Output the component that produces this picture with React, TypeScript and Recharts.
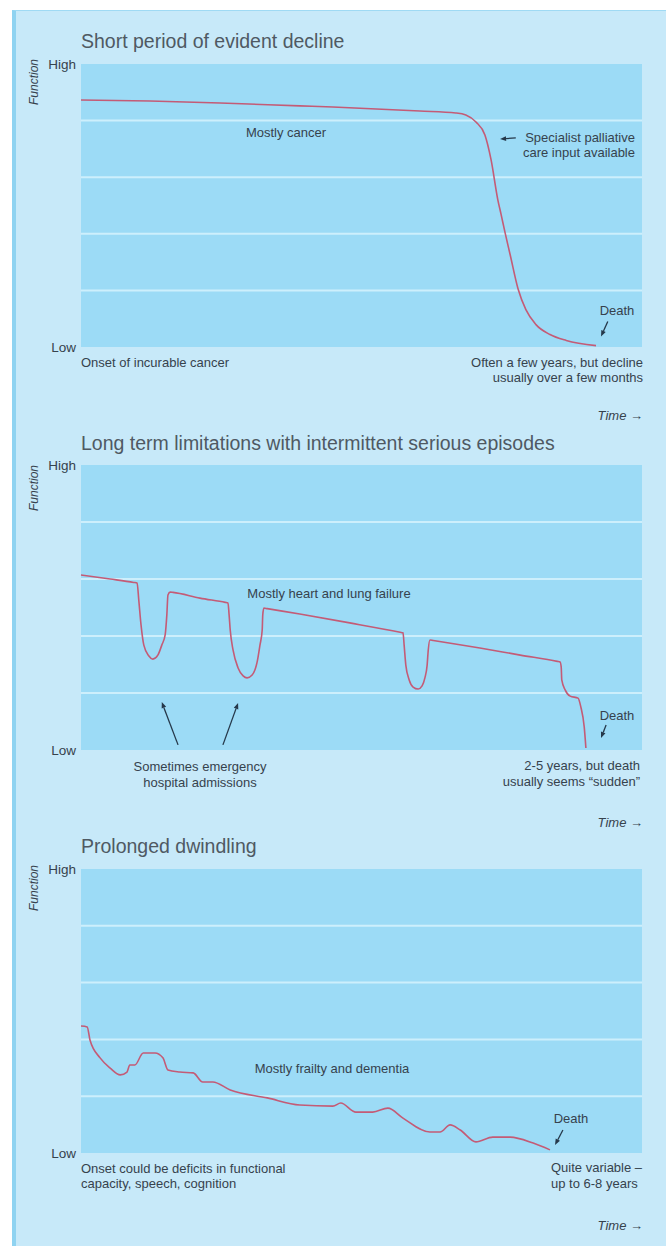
import React from "react";
import { LineChart, Line, XAxis, YAxis, ReferenceLine, ReferenceArea } from "recharts";

// time runs 0..100 across each panel, function 0 (Low) .. 100 (High)
const GRID = [20, 40, 60, 80];

const cancerT = [0, 12.3, 24.8, 39, 44.9, 60.4, 66.8, 68.6, 70.4, 72, 73.1, 74.3, 74.9, 75.6, 76.5, 77.9, 79.3, 81.1, 83.6, 86.5, 91.8];
const cancerF = [87.3, 86.9, 86.2, 85.2, 84.8, 83.4, 82.7, 82, 79.5, 74.9, 66.1, 52, 46.7, 40.3, 32.6, 20.6, 13.2, 7.9, 4.4, 2.3, 0.5];

const organT = [
  0, 5.2, 9.4, 10, 10.3, 10.7, 11.2, 12.1, 12.8, 13.7, 14.4, 15, 15.3, 15.5, 15.9, 16.4,
  21.2, 25.7, 26.2, 26.4, 26.6, 27.1, 28, 28.9, 29.6, 30.5, 31.4, 31.9, 32.3, 32.4, 32.6, 33.2,
  39, 47.9, 56.9, 57.4, 57.6, 57.9, 58.5, 59.2, 60.1, 60.8, 61.3, 61.7, 61.9, 62.2, 62.8,
  71.1, 78.3, 84.9, 85.4, 85.6, 85.7, 86.3, 87.2, 88.6, 89.1, 89.7, 90,
];
const organF = [
  61.4, 60, 58.8, 58.6, 52.6, 43.9, 36.8, 33, 31.9, 33.3, 36.8, 40.4, 47.4, 54.4, 55.4, 55.3,
  53.3, 51.8, 51.6, 47.4, 42.1, 35.1, 28.8, 26, 25.3, 26.3, 30.9, 36.8, 42.1, 47.4, 49.8, 49.6,
  47.7, 44.6, 41.3, 41.1, 36.8, 29.8, 24.6, 22.1, 21.4, 22.5, 25.3, 29.8, 35.1, 38.6, 38.4,
  35.8, 33.3, 31.1, 30.9, 29.1, 24.6, 21.1, 18.9, 18.2, 15.1, 8.1, 0.7,
];

const frailT = [0, 1.1, 1.6, 3.4, 5.2, 7, 8.2, 8.7, 9.6, 11.1, 13.2, 14.6, 15.5, 17.6, 20, 21.7, 23.5, 26.6, 33.2, 39, 44.9, 46.3, 49, 52, 54.7, 57.4, 62.2, 64, 65.8, 67.6, 70.4, 73.4, 76.5, 80.6, 83.6];
const frailF = [44.7, 44.4, 39.8, 33.5, 29.9, 27.5, 28.5, 31, 31, 35.2, 35.2, 33.5, 29.2, 28.5, 28.2, 25, 25, 22.2, 19.4, 16.9, 16.5, 17.6, 14.4, 14.4, 15.8, 12.3, 7.4, 7.4, 9.9, 8.1, 3.9, 5.6, 5.6, 3.5, 1.1];

// annotation arrows [t1, f1, t2, f2], head at the second point
const cancerArrows = [
  [77.5, 73.9, 74.7, 73.5],
  [93.9, 9.0, 92.7, 3.7],
];
const organArrows = [
  [17.3, 1.8, 14.4, 16.8],
  [25.3, 1.8, 28.0, 16.5],
  [93.6, 8.8, 92.7, 4.2],
];
const frailArrows = [[85.9, 8.1, 84.5, 2.8]];

const FONT = "'Liberation Sans', Arial, Helvetica, sans-serif";
const INK = "#36424d";
const LINE = "#c45b76";

const toRows = (t: number[], f: number[]) => t.map((v, i) => ({ t: v, f: f[i] }));

function ArrowShape(props: any) {
  const { x1, y1, x2, y2 } = props;
  const a = Math.atan2(y2 - y1, x2 - x1);
  const bx = x2 - 6 * Math.cos(a);
  const by = y2 - 6 * Math.sin(a);
  const px = -Math.sin(a) * 2.4;
  const py = Math.cos(a) * 2.4;
  return (
    <g>
      <line x1={x1} y1={y1} x2={bx} y2={by} stroke="#25384a" strokeWidth={1.3} />
      <polygon points={`${x2},${y2} ${bx + px},${by + py} ${bx - px},${by - py}`} fill="#25384a" />
    </g>
  );
}

function Panel({ top, height, rows, arrows }: { top: number; height: number; rows: any[]; arrows: number[][] }) {
  return (
    <div style={{ position: "absolute", left: 0, top: top - 10 }}>
      <LineChart width={666} height={height + 20} data={rows} margin={{ top: 10, right: 24, bottom: 10, left: 31 }}>
        <XAxis type="number" dataKey="t" domain={[0, 100]} hide />
        <YAxis
          type="number"
          domain={[0, 100]}
          ticks={[0, 100]}
          interval={0}
          tickFormatter={(v: number) => (v === 100 ? "High" : "Low")}
          width={50}
          axisLine={false}
          tickLine={false}
          tickSize={4}
          tickMargin={1}
          tick={{ fill: INK, fontSize: 13.5 }}
        />
        <ReferenceArea x1={0} x2={100} y1={0} y2={100} fill="#9cdbf6" fillOpacity={1} stroke="none" />
        {GRID.map((g) => (
          <ReferenceLine key={g} y={g} stroke="#cdeffc" strokeWidth={2} />
        ))}
        <Line dataKey="f" type="monotone" stroke={LINE} strokeWidth={1.6} dot={false} isAnimationActive={false} />
        {arrows.map((a, i) => (
          <ReferenceLine
            key={i}
            segment={[{ x: a[0], y: a[1] }, { x: a[2], y: a[3] }]}
            ifOverflow="visible"
            shape={ArrowShape}
          />
        ))}
      </LineChart>
    </div>
  );
}

const TITLES = [
  { x: 81, y: 48, text: "Short period of evident decline" },
  { x: 81, y: 450, text: "Long term limitations with intermittent serious episodes" },
  { x: 81, y: 853, text: "Prolonged dwindling" },
];

const FUNCTION_Y = [82, 488, 888];
const TIME_Y = [420, 827, 1230];

const NOTES = [
  { x: 286, y: 137, anchor: "middle", text: "Mostly cancer" },
  { x: 635, y: 142, anchor: "end", text: "Specialist palliative" },
  { x: 635, y: 157, anchor: "end", text: "care input available" },
  { x: 617, y: 315, anchor: "middle", text: "Death" },
  { x: 81, y: 367, anchor: "start", text: "Onset of incurable cancer" },
  { x: 643, y: 367, anchor: "end", text: "Often a few years, but decline" },
  { x: 643, y: 382, anchor: "end", text: "usually over a few months" },

  { x: 329, y: 598, anchor: "middle", text: "Mostly heart and lung failure" },
  { x: 617, y: 720, anchor: "middle", text: "Death" },
  { x: 200, y: 771, anchor: "middle", text: "Sometimes emergency" },
  { x: 200, y: 787, anchor: "middle", text: "hospital admissions" },
  { x: 640, y: 770, anchor: "end", text: "2-5 years, but death" },
  { x: 640, y: 786, anchor: "end", text: "usually seems \u201csudden\u201d" },

  { x: 332, y: 1073, anchor: "middle", text: "Mostly frailty and dementia" },
  { x: 571, y: 1123, anchor: "middle", text: "Death" },
  { x: 81, y: 1173, anchor: "start", text: "Onset could be deficits in functional" },
  { x: 81, y: 1188, anchor: "start", text: "capacity, speech, cognition" },
  { x: 551, y: 1172, anchor: "start", text: "Quite variable \u2013" },
  { x: 551, y: 1188, anchor: "start", text: "up to 6-8 years" },
];

export default function App() {
  return (
    <div style={{ position: "absolute", left: 0, top: 0, width: 666, height: 1246, background: "#fff", fontFamily: FONT, overflow: "hidden" }}>
      <div style={{ position: "absolute", left: 12, top: 10, right: 0, bottom: 0, background: "#c7e9f9", borderLeft: "4px solid #8fd3f1", borderTop: "1px solid #9fdaf4" }} />
      <Panel top={64} height={283} rows={toRows(cancerT, cancerF)} arrows={cancerArrows} />
      <Panel top={465} height={285} rows={toRows(organT, organF)} arrows={organArrows} />
      <Panel top={869} height={284} rows={toRows(frailT, frailF)} arrows={frailArrows} />
      <svg width={666} height={1246} style={{ position: "absolute", left: 0, top: 0, pointerEvents: "none" }}>
        {TITLES.map((t) => (
          <text key={t.text} x={t.x} y={t.y} fontSize={19.5} fill="#4f5963">
            {t.text}
          </text>
        ))}
        {FUNCTION_Y.map((y) => (
          <text key={y} transform={`translate(38, ${y}) rotate(-90)`} textAnchor="middle" fontSize={12} fontStyle="italic" fill={INK}>
            Function
          </text>
        ))}
        {TIME_Y.map((y) => (
          <text key={y} x={643} y={y} textAnchor="end" fontSize={13} fill={INK}>
            <tspan fontStyle="italic">Time</tspan> <tspan fontWeight="bold">{"\u2192"}</tspan>
          </text>
        ))}
        {NOTES.map((n, i) => (
          <text key={i} x={n.x} y={n.y} textAnchor={n.anchor as any} fontSize={13} fill={INK}>
            {n.text}
          </text>
        ))}
      </svg>
    </div>
  );
}
